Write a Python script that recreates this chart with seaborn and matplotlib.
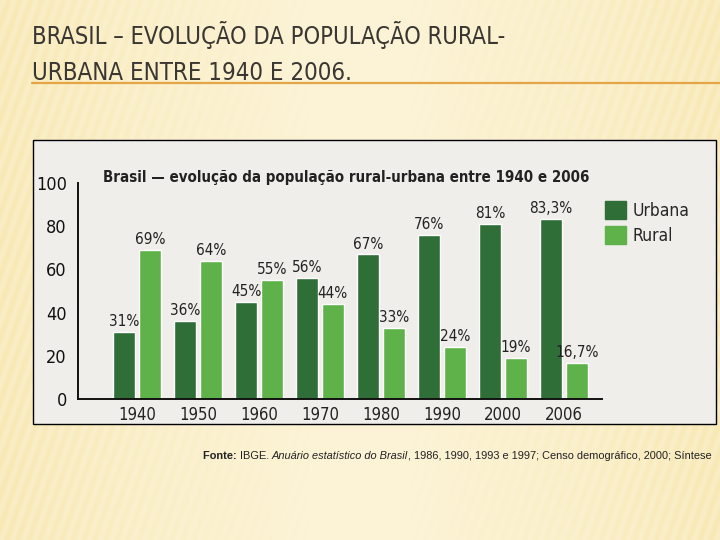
import numpy as np
import pandas as pd
import matplotlib
matplotlib.use('Agg')
import matplotlib.pyplot as plt
from matplotlib import font_manager as fm
from matplotlib.patches import Rectangle
from matplotlib.lines import Line2D
import seaborn as sns

anos = ['1940', '1950', '1960', '1970', '1980', '1990', '2000', '2006']
urbana = [31, 36, 45, 56, 67, 76, 81, 83.3]
rural = [69, 64, 55, 44, 33, 24, 19, 16.7]
series = ['Urbana', 'Rural']
y_ticks = [0, 20, 40, 60, 80, 100]

dark_green = '#2f6e37'
light_green = '#5fb24a'

sns.set_theme(style='white')

# look for a condensed face, the original uses narrow fonts
cond = [f for f in fm.fontManager.ttflist
        if f.stretch in ('condensed', 'semi-condensed', 'extra-condensed', 600, 700)
        or 'Condensed' in f.name or 'Narrow' in f.name]
if cond:
    cond_family = cond[0].name
    stretch = cond[0].stretch
else:
    cond_family = 'DejaVu Sans'
    stretch = 'normal'
plt.rcParams['font.family'] = [cond_family, 'DejaVu Sans']
plt.rcParams['font.stretch'] = stretch

df = pd.DataFrame({
    'ano': anos * 2,
    'pct': urbana + rural,
    'tipo': ['Urbana'] * len(anos) + ['Rural'] * len(anos),
})

fig = plt.figure(figsize=(7.2, 5.4), dpi=100)
fig.canvas.draw()
r = fig.canvas.get_renderer()


def fit_text(x_px, base_px, s, width_px, size, **kw):
    t = fig.text(x_px / 720, 1 - base_px / 540, s, fontsize=size,
                 va='baseline', ha='left', **kw)
    wpx = t.get_window_extent(renderer=r).width
    if wpx > width_px:
        t.set_fontsize(size * width_px / wpx)
    return t


# slide background with soft diagonal stripes
bg = fig.add_axes([0, 0, 1, 1])
bg.set_axis_off()
h, w = 540, 720
yy, xx = np.mgrid[0:h, 0:w]
base = np.array([248, 232, 180]) / 255.0
light = np.array([253, 246, 222]) / 255.0
edge = np.clip(np.abs(xx - w / 2) / (w / 2), 0, 1) ** 1.3
stripe = 0.5 + 0.5 * np.sin(2 * np.pi * (xx + 0.35 * yy) / 11.0)
mix = (1 - edge)[..., None] * 0.85 + stripe[..., None] * edge[..., None] * 0.4
img = base * (1 - mix) + light * mix
bg.imshow(img, aspect='auto', extent=[0, 1, 0, 1], transform=bg.transAxes)
bg.set_xlim(0, 1)
bg.set_ylim(0, 1)

# slide title
fit_text(32, 44, 'BRASIL – EVOLUÇÃO DA POPULAÇÃO RURAL-', 473, 26, color='#3a3632')
fit_text(32, 80, 'URBANA ENTRE 1940 E 2006.', 473 * 25 / 37, 26, color='#3a3632')
fig.add_artist(Line2D([32 / 720, 1], [1 - 83 / 540, 1 - 83 / 540],
                      transform=fig.transFigure, color='#e3a545', lw=1.6))

# chart panel
fig.add_artist(Rectangle((33 / 720, 1 - 424 / 540), 683 / 720, 284 / 540,
                         transform=fig.transFigure, facecolor='#efeeea',
                         edgecolor='black', lw=1.0, zorder=1))

ax = fig.add_axes([78 / 720, 1 - 399 / 540, 524 / 720, 216 / 540])
ax.set_facecolor('none')
ax.set_zorder(3)
sns.barplot(data=df, x='ano', y='pct', hue='tipo', hue_order=series,
            palette=[dark_green, light_green], width=0.84, gap=0.12,
            saturation=1, legend=False, ax=ax)

for cont, vals in zip(ax.containers, [urbana, rural]):
    labs = [f'{v:g}%'.replace('.', ',') for v in vals]
    ax.bar_label(cont, labels=labs, padding=2, fontsize=11, color='#222222')

ax.set_xlim(-0.967, 7.623)
ax.set_ylim(0, 100)
ax.set_yticks(y_ticks)
ax.set_yticklabels([str(t) for t in y_ticks])
ax.set_xlabel('')
ax.set_ylabel('')
ax.set_title('')
for s in ['top', 'right']:
    ax.spines[s].set_visible(False)
for s in ['left', 'bottom']:
    ax.spines[s].set_color('#111111')
    ax.spines[s].set_linewidth(1.4)
ax.tick_params(axis='y', direction='in', length=10, width=1.0, colors='#111111',
               labelsize=13, pad=8)
ax.tick_params(axis='x', length=0, labelsize=12, pad=5, colors='#222222')
for i, t in enumerate(ax.yaxis.get_major_ticks()):
    if y_ticks[i] in (40, 60, 100):
        t.tick1line.set_markeredgewidth(2.2)

ct = fit_text(103, 182, 'Brasil — evolução da população rural-urbana entre 1940 e 2006',
              488, 16, fontweight='bold', color='#222222')
ct.set_zorder(5)

handles = [Rectangle((0, 0), 1, 1, color=dark_green),
           Rectangle((0, 0), 1, 1, color=light_green)]
fig.legend(handles, series, loc='upper left',
           bbox_to_anchor=(605 / 720, 1 - 201 / 540), frameon=False,
           handlelength=1.2, handleheight=1.2, handletextpad=0.4,
           borderpad=0, borderaxespad=0, labelspacing=0.35,
           prop={'size': 12.5})

# source line with mixed styles
x = 203 / 720
y = 1 - 459 / 540
pieces = [('Fonte: ', 'bold', 'normal'), ('IBGE. ', 'normal', 'normal'),
          ('Anuário estatístico do Brasil', 'normal', 'italic'),
          (', 1986, 1990, 1993 e 1997; Censo demográfico, 2000; Síntese', 'normal', 'normal')]
for txt, wt, st in pieces:
    t = fig.text(x, y, txt, fontsize=7.9, fontweight=wt, style=st,
                 family=['Liberation Sans', 'DejaVu Sans'], stretch='normal',
                 color='#222222', va='baseline', ha='left')
    bb = t.get_window_extent(renderer=r)
    x += bb.width / fig.bbox.width

fig.savefig('out.png', dpi=100)
